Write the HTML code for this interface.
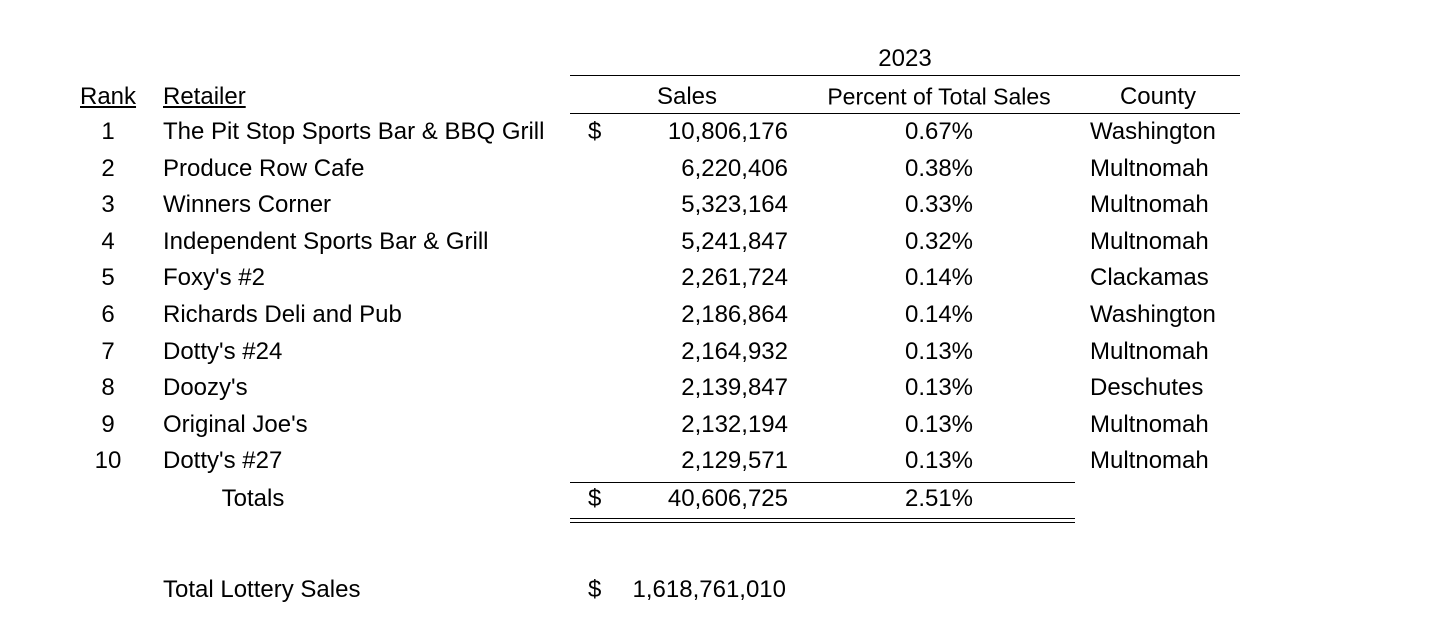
<!DOCTYPE html><html><head><style>
body{margin:0;width:1440px;height:624px;background:#fff;position:relative;overflow:hidden;font-family:"Liberation Sans",sans-serif;font-size:24px;color:#000}
.t{position:absolute;white-space:nowrap;transform:translateY(-50%);line-height:1}
.c{transform:translate(-50%,-50%)}
.r{transform:translate(-100%,-50%)}
.l{position:absolute;height:1px;background:#000}
</style></head><body>
<div class="t c" style="left:905px;top:59px">2023</div>
<div class="l" style="left:570px;width:670px;top:75px"></div>
<div class="t" style="left:80px;top:97px;text-decoration:underline">Rank</div>
<div class="t" style="left:163px;top:97px;text-decoration:underline">Retailer</div>
<div class="t c" style="left:687px;top:97px">Sales</div>
<div class="t c" style="left:939px;top:97px;font-size:23px">Percent of Total Sales</div>
<div class="t c" style="left:1158px;top:97px">County</div>
<div class="l" style="left:570px;width:670px;top:113px"></div>
<div id="rows"></div>
<div class="l" style="left:570px;width:505px;top:482px"></div>
<div class="t c" style="left:253px;top:499px">Totals</div>
<div class="t" style="left:588px;top:499px">$</div>
<div class="t r" style="left:788px;top:499px">40,606,725</div>
<div class="t c" style="left:939px;top:499px">2.51%</div>
<div class="l" style="left:570px;width:505px;top:518px"></div>
<div class="l" style="left:570px;width:505px;top:522px"></div>
<div class="t" style="left:163px;top:590px">Total Lottery Sales</div>
<div class="t" style="left:588px;top:590px">$</div>
<div class="t r" style="left:786px;top:590px">1,618,761,010</div>
<script>
var d=[["The Pit Stop Sports Bar & BBQ Grill","10,806,176","0.67%","Washington"],["Produce Row Cafe","6,220,406","0.38%","Multnomah"],["Winners Corner","5,323,164","0.33%","Multnomah"],["Independent Sports Bar & Grill","5,241,847","0.32%","Multnomah"],["Foxy's #2","2,261,724","0.14%","Clackamas"],["Richards Deli and Pub","2,186,864","0.14%","Washington"],["Dotty's #24","2,164,932","0.13%","Multnomah"],["Doozy's","2,139,847","0.13%","Deschutes"],["Original Joe's","2,132,194","0.13%","Multnomah"],["Dotty's #27","2,129,571","0.13%","Multnomah"]];
var h="";d.forEach(function(r,i){var y=132+i*36.6;
h+='<div class="t c" style="left:108px;top:'+y+'px">'+(i+1)+'</div>';
h+='<div class="t" style="left:163px;top:'+y+'px">'+r[0].replace(/&/g,"&amp;")+'</div>';
if(i==0)h+='<div class="t" style="left:588px;top:'+y+'px">$</div>';
h+='<div class="t r" style="left:788px;top:'+y+'px">'+r[1]+'</div>';
h+='<div class="t c" style="left:939px;top:'+y+'px">'+r[2]+'</div>';
h+='<div class="t" style="left:1090px;top:'+y+'px">'+r[3]+'</div>';});
document.getElementById("rows").innerHTML=h;
</script>
</body></html>
